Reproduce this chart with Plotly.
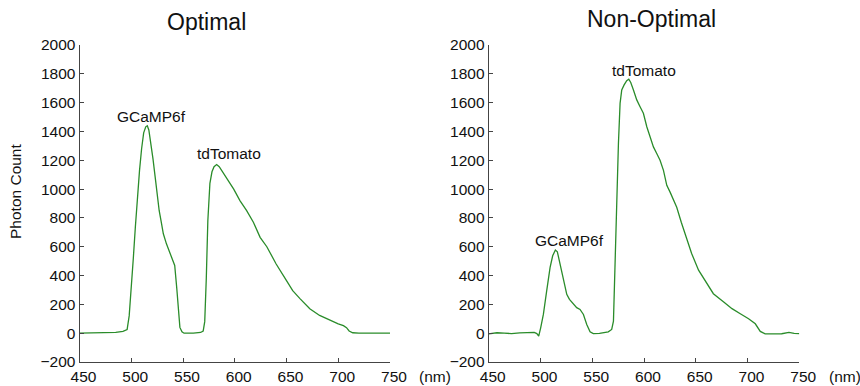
import plotly.graph_objects as go

# Optimal spectrum
wl_opt = [450, 470, 485, 492, 496, 498, 500, 502, 504, 506,
          508, 510, 512, 514, 515.5, 517, 519, 521, 523, 525,
          527, 529, 531, 534, 537, 540, 542, 544, 545.5, 547,
          549, 551, 560, 567, 569.5, 571, 572.5, 574, 576, 578,
          580, 582.5, 585, 589, 594, 599, 605, 611.5, 618, 624.5,
          631, 640, 650, 656, 663, 672.5, 682, 692, 700, 705,
          708, 710.5, 714, 720, 735, 750]
cnt_opt = [0, 2, 6, 12, 25, 120, 300, 520, 740, 950,
           1130, 1280, 1390, 1432, 1440, 1410, 1320, 1210, 1090, 960,
           850, 770, 690, 620, 560, 510, 470, 310, 150, 40,
           10, 0, 0, 5, 15, 80, 380, 780, 1040, 1120,
           1155, 1170, 1155, 1110, 1050, 1000, 920, 850, 770, 665,
           600, 480, 365, 295, 240, 170, 123, 88, 65, 52,
           38, 15, 3, 0, 0, 0]

# Non-optimal spectrum
wl_non = [450, 458, 465, 472, 480, 488, 494,
          496.5, 498.3, 500.2, 502.8, 506, 509.3, 511.8, 514.4, 516.3, 518.9,
          522.1, 525.4, 528, 531.8, 535, 538.2, 541.5, 544.7, 547.9, 551,
          557, 565.5, 568.8, 570.5, 572, 573.7, 575.3, 576.9, 578.5, 580.8,
          583.3, 585.3, 587.2, 589.8, 593, 596.2, 599.4, 602.7, 605.9, 609.1,
          612.3, 615.5, 618.8, 622, 625.2, 628.4, 631.6, 636, 640, 646,
          652.7, 660.7, 667, 677, 685, 693, 701, 707.5, 710, 712.3,
          717, 725, 733, 740, 745, 750]
cnt_non = [-5, 3, 0, -3, 2, 4, 5,
           -3, -20, 37, 130, 293, 456, 537, 577, 565, 480,
           363, 270, 235, 200, 177, 165, 130, 60, 9, -3,
           -2, 9, 26, 84, 502, 967, 1316, 1595, 1688, 1723,
           1753, 1763, 1740, 1688, 1619, 1572, 1526, 1433, 1363, 1293,
           1247, 1200, 1130, 1026, 979, 921, 874, 770, 681, 553,
           437, 344, 274, 216, 170, 135, 100, 65, 40, 12,
           -5, -3, -4, 5, -2, -3]

x_ticks = [450, 500, 550, 600, 650, 700, 750]
y_ticks = [-200, 0, 200, 400, 600, 800, 1000, 1200, 1400, 1600, 1800, 2000]

titles = ["Optimal", "Non-Optimal"]
peak_labels_opt = [("GCaMP6f", 519.5, 1505), ("tdTomato", 594.5, 1250)]
peak_labels_non = [("GCaMP6f", 528, 645), ("tdTomato", 600, 1825)]

FONT = "Liberation Sans, Arial, sans-serif"
GREEN = "#2a8c2a"

fig = go.Figure()
fig.add_trace(go.Scatter(x=wl_opt, y=cnt_opt, mode="lines",
                         line=dict(color=GREEN, width=1.3),
                         xaxis="x", yaxis="y", showlegend=False))
fig.add_trace(go.Scatter(x=wl_non, y=cnt_non, mode="lines",
                         line=dict(color=GREEN, width=1.3),
                         xaxis="x2", yaxis="y2", showlegend=False))

xcommon = dict(range=[450, 750], tickvals=x_ticks, ticks="inside", ticklen=4,
               tickcolor="#444", showline=True, linecolor="#444", linewidth=1,
               showgrid=False, zeroline=False, ticklabelshift=4, automargin=False,
               tickfont=dict(family=FONT, size=15.5, color="#111"))
ycommon = dict(range=[-200, 2000], tickvals=y_ticks, ticks="inside", ticklen=4,
               tickcolor="#444", showline=True, linecolor="#444", linewidth=1,
               showgrid=False, zeroline=False, automargin=False,
               tickfont=dict(family=FONT, size=15.5, color="#111"))

ydom = [0.0622, 0.8834]
fig.update_layout(
    width=860, height=386,
    margin=dict(l=0, r=0, t=0, b=0, autoexpand=False),
    paper_bgcolor="white", plot_bgcolor="white",
    xaxis=dict(domain=[79.5 / 860, 390 / 860], anchor="y", **xcommon),
    yaxis=dict(domain=ydom, anchor="x", **ycommon),
    xaxis2=dict(domain=[488.7 / 860, 799.3 / 860], anchor="y2", **xcommon),
    yaxis2=dict(domain=ydom, anchor="x2", **ycommon),
)

ann = []
ann.append(dict(text=titles[0], x=206 / 860, y=(386 - 22) / 386, xref="paper", yref="paper",
                xanchor="center", yanchor="middle", showarrow=False,
                font=dict(family=FONT, size=23, color="#111")))
ann.append(dict(text=titles[1], x=651 / 860, y=(386 - 19.5) / 386, xref="paper", yref="paper",
                xanchor="center", yanchor="middle", showarrow=False,
                font=dict(family=FONT, size=23, color="#111")))
ann.append(dict(text="Photon Count", x=15.5 / 860, y=(386 - 191.5) / 386, xref="paper",
                yref="paper", textangle=-90, xanchor="center", yanchor="middle",
                showarrow=False, font=dict(family=FONT, size=15.5, color="#111")))
for xp in [417.3, 827]:
    ann.append(dict(text="(nm)", x=xp / 860, y=(386 - 376) / 386, xref="paper", yref="paper",
                    xanchor="left", yanchor="middle", showarrow=False,
                    font=dict(family=FONT, size=15.5, color="#111")))
for txt, xv, yv in peak_labels_opt:
    ann.append(dict(text=txt, x=xv, y=yv, xref="x", yref="y", showarrow=False,
                    xanchor="center", yanchor="middle",
                    font=dict(family=FONT, size=15.5, color="#111")))
for txt, xv, yv in peak_labels_non:
    ann.append(dict(text=txt, x=xv, y=yv, xref="x2", yref="y2", showarrow=False,
                    xanchor="center", yanchor="middle",
                    font=dict(family=FONT, size=15.5, color="#111")))
fig.update_layout(annotations=ann)

fig.write_html("out.html", config={"displayModeBar": False},
               post_script="document.body.style.margin='0';document.body.style.overflow='hidden';")
